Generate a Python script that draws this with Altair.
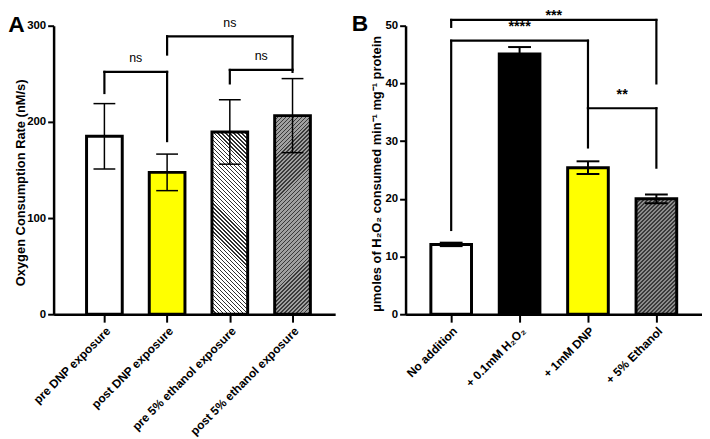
import altair as alt
import pandas as pd

# ---------------- data ----------------
A_labels = ["pre DNP exposure", "post DNP exposure", "pre 5% ethanol exposure", "post 5% ethanol exposure"]
A_mean = [185, 147.5, 189.5, 206.5]
A_err = [34, 19, 33.5, 38.5]
A_br_x1 = [1, 2, 3]
A_br_x2 = [2, 4, 4]
A_br_y = [252, 289, 254]
A_br_left = [230, 270, 240]
A_br_right = [180, 256, 252]
A_br_text = ["ns", "ns", "ns"]
A_br_text_y = [266, 303, 268]

B_labels = ["No addition", "+ 0.1mM H\u2082O\u2082", "+ 1mM DNP", "+ 5% Ethanol"]
B_mean = [12.1, 45.1, 25.4, 20.0]
B_err = [0.3, 1.2, 1.1, 0.75]
B_br_x1 = [1, 1, 3]
B_br_x2 = [4, 3, 4]
B_br_y = [51.0, 47.4, 35.7]
B_br_left = [49.8, 14.6, 35.7]
B_br_right = [40.0, 28.9, 25.4]
B_br_text = ["***", "****", "**"]
B_br_text_y = [51.75, 49.7, 38.0]

# ---------------- styles ----------------
FONT = "Liberation Sans"
A_fill = ["#ffffff", "#ffff00", None, None]
A_hatch = [None, None, ("#ffffff", "#303030", "\\"), ("#a0a0a0", "#3a3a3a", "/")]
B_fill = ["#ffffff", "#000000", "#ffff00", None]
B_hatch = [None, None, None, ("#8c8c8c", "#3a3a3a", "/")]


def hatch_gradient(w, h, base, line, direction, period=4.0, frac=0.33):
    n = max(1, int(round((w + h) / period)))
    k = (w + h) / (w * w + h * h)
    if direction == "/":
        x1, y1, x2, y2 = 0, 0, k * w, k * h
    else:
        x1, y1, x2, y2 = 0, 1, k * w, 1 - k * h
    stops = []
    for i in range(n):
        a = i / n
        b = (i + frac) / n
        c = (i + 1) / n
        stops += [(a, line), (b, line), (b, base), (c, base)]
    return alt.LinearGradient(
        gradient="linear",
        stops=[alt.GradientStop(offset=o, color=c) for o, c in stops],
        x1=x1, y1=y1, x2=x2, y2=y2,
    )


def panel(labels, mean, err, fills, hatches, br, letter, ytitle, yvals,
          xdom, ydom, width, height, bar_size, cap, err_w, letter_xy, title_xy):
    n = len(labels)
    df = pd.DataFrame({
        "pos": list(range(1, n + 1)),
        "mean": mean,
        "lo": [m - e for m, e in zip(mean, err)],
        "hi": [m + e for m, e in zip(mean, err)],
    })
    label_js = "[" + ",".join("'" + l + "'" for l in labels) + "]"
    xenc = alt.X(
        "pos:Q",
        scale=alt.Scale(domain=xdom, nice=False, zero=False, padding=0),
        axis=alt.Axis(
            values=list(range(1, n + 1)), labelExpr=label_js + "[datum.value - 1]",
            labelAngle=-45, labelOverlap=False, labelFlush=False, title=None,
            labelFontSize=12, labelPadding=3, tickSize=8,
        ),
    )
    yenc = alt.Y(
        "mean:Q",
        scale=alt.Scale(domain=ydom, nice=False, padding=0),
        axis=alt.Axis(
            values=yvals, title=ytitle, titleX=title_xy[0], titleY=title_xy[1],
            titleAngle=-90, titleAlign="center", titleBaseline="middle",
            tickSize=6, labelPadding=2, labelFontSize=11.5,
        ),
    )
    base = alt.Chart(df)
    solid_idx = [i + 1 for i, f in enumerate(fills) if f is not None]
    layers = [
        base.mark_bar(size=bar_size, stroke="black", strokeWidth=3)
        .encode(
            x=xenc, y=yenc,
            fill=alt.Fill("pos:O", scale=alt.Scale(domain=solid_idx,
                                                    range=[fills[i - 1] for i in solid_idx]),
                          legend=None),
        )
        .transform_filter(alt.FieldOneOfPredicate(field="pos", oneOf=solid_idx))
    ]
    px_per_unit = height / (ydom[1] - ydom[0])
    for i, h in enumerate(hatches):
        if h is None:
            continue
        g = hatch_gradient(bar_size, mean[i] * px_per_unit, h[0], h[1], h[2])
        layers.append(
            base.mark_bar(size=bar_size, stroke="black", strokeWidth=3, fill=g)
            .encode(x="pos:Q", y="mean:Q")
            .transform_filter(alt.datum.pos == i + 1)
        )
    layers.append(base.mark_rule(color="black", strokeWidth=err_w)
                  .encode(x="pos:Q", y="lo:Q", y2="hi:Q"))
    for fld in ["lo", "hi"]:
        layers.append(base.mark_tick(orient="horizontal", size=cap, thickness=err_w,
                                     color="black", opacity=1)
                      .encode(x="pos:Q", y=f"{fld}:Q"))
    x1, x2, yb, yl, yr, txt, ty = br
    hdf = pd.DataFrame({"x1": x1, "x2": x2, "y": yb})
    layers.append(alt.Chart(hdf).mark_rule(color="black", strokeWidth=2.2, strokeCap="square")
                  .encode(x="x1:Q", x2="x2:Q", y="y:Q"))
    vdf = pd.DataFrame({
        "x": list(x1) + list(x2),
        "top": list(yb) + list(yb),
        "bot": list(yl) + list(yr),
    })
    layers.append(alt.Chart(vdf).mark_rule(color="black", strokeWidth=2.2, strokeCap="square")
                  .encode(x="x:Q", y="top:Q", y2="bot:Q"))
    tdf = pd.DataFrame({"x1": x1, "x2": x2, "ty": ty, "t": txt})
    is_star = txt[0].startswith("*")
    layers.append(alt.Chart(tdf).mark_text(
        font=FONT, fontSize=14.5 if is_star else 12.5,
        fontWeight="bold" if is_star else "normal",
        baseline="middle", align="center", color="black")
        .transform_calculate(xm="(datum.x1 + datum.x2) / 2")
        .encode(x="xm:Q", y="ty:Q", text="t:N"))
    ldf = pd.DataFrame({"t": [letter]})
    layers.append(alt.Chart(ldf).mark_text(
        font=FONT, fontSize=23, fontWeight="bold", align="center", baseline="middle",
        color="black")
        .encode(x=alt.value(letter_xy[0]), y=alt.value(letter_xy[1]), text="t:N"))
    return alt.layer(*layers).properties(width=width, height=height)


A = panel(A_labels, A_mean, A_err, A_fill, A_hatch,
          (A_br_x1, A_br_x2, A_br_y, A_br_left, A_br_right, A_br_text, A_br_text_y),
          "A", "Oxygen Consumption Rate (nM/s)", [0, 100, 200, 300],
          [0.19, 4.68], [0, 300], 284, 291, 36, 22, 1.5, (-37.5, -1), (-33, 158))
B = panel(B_labels, B_mean, B_err, B_fill, B_hatch,
          (B_br_x1, B_br_x2, B_br_y, B_br_left, B_br_right, B_br_text, B_br_text_y),
          "B", "\u03bcmoles of H\u2082O\u2082 consumed min\u207b\u00b9 mg\u207b\u00b9 protein",
          [0, 10, 20, 30, 40, 50],
          [0.333, 4.667], [0, 50], 299, 291, 41, 23, 2, (-46, -2), (-29, 149))

chart = (
    alt.hconcat(A, B, spacing=71, bounds="flush")
    .resolve_scale(fill="independent")
    .properties(padding={"top": -3, "left": 0, "right": 0, "bottom": 0}, background="white")
    .configure_view(stroke=None)
    .configure_axis(
        domainColor="black", domainWidth=2.5, tickColor="black", tickWidth=2,
        labelFont=FONT, labelFontWeight="bold", labelFontSize=11, labelColor="black",
        titleFont=FONT, titleFontWeight="bold", titleFontSize=13, titleColor="black",
        grid=False,
    )
)
chart.save("out.html", embed_options={"renderer": "svg", "actions": False})
